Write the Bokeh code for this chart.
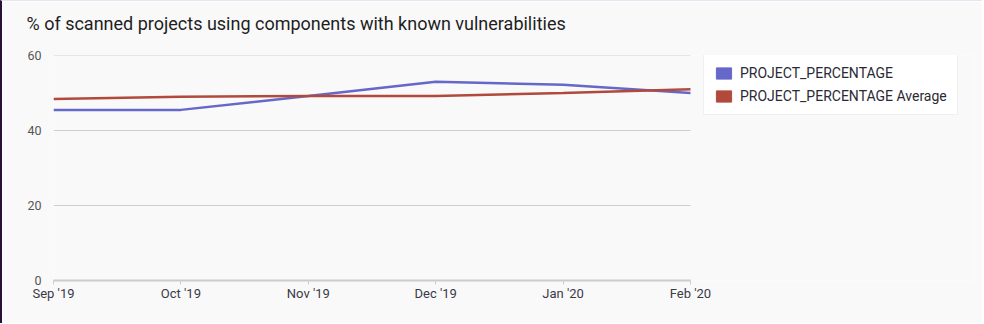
import math
from bokeh.plotting import figure
from bokeh.models import FixedTicker, Legend, LegendItem, Range1d, Title
from bokeh.embed import file_html
from bokeh.resources import INLINE

title_text = "% of scanned projects using components with known vulnerabilities"
months = ["Sep '19", "Oct '19", "Nov '19", "Dec '19", "Jan '20", "Feb '20"]
project_percentage = [45.5, 45.5, 49.2, 53.0, 52.2, 50.0]
project_percentage_avg = [48.4, 49.0, 49.2, 49.2, 50.0, 51.0]
y_ticks = [0, 20, 40, 60]

xs = list(range(len(months)))

BG = "#f9f9f9"
BLUE = "#6668c9"
RED = "#b14a3c"
FONT = "Roboto"

W, H = 982, 323
LEFT, RIGHT_B, TOP, BOTTOM = 51, 10, 54, 44
DATA_W = 637  # pixel width spanned by the data (Sep -> Feb)
frame_w = W - LEFT - RIGHT_B
x_end = (len(months) - 1) * frame_w / DATA_W

p = figure(width=W, height=H, output_backend="svg", toolbar_location=None,
           x_range=Range1d(0, x_end), y_range=Range1d(0, 60),
           min_border_left=LEFT, min_border_right=RIGHT_B, min_border_top=TOP, min_border_bottom=BOTTOM,
           background_fill_color=BG, border_fill_color=BG, outline_line_color=None)
p.styles = {"border-left": "2px solid #2a0f3a", "border-top": "1px solid #e3e6ee"}
p.title_location = None

# spacer panel (nearest the frame) then the real title above it
spacer = Title(text=" ", text_font_size="1px", standoff=15)
p.add_layout(spacer, "above")
title = Title(text=title_text, text_font=FONT, text_font_size="18px", text_font_style="normal",
              text_color="#1e1e1e", offset=-27, standoff=4, vertical_align="top")
p.add_layout(title, "above")

# horizontal grid lines limited to the data span
p.segment(x0=[0] * len(y_ticks), x1=[len(months) - 1] * len(y_ticks), y0=y_ticks, y1=y_ticks,
          line_color="#cfcfcf", line_width=1)

l1 = p.line(xs, project_percentage, line_color=BLUE, line_width=2.5)
l2 = p.line(xs, project_percentage_avg, line_color=RED, line_width=2.5)
nan = [math.nan]
q1 = p.quad(left=nan, right=nan, top=nan, bottom=nan, fill_color=BLUE, line_color=BLUE)
q2 = p.quad(left=nan, right=nan, top=nan, bottom=nan, fill_color=RED, line_color=RED)

p.xaxis.ticker = FixedTicker(ticks=xs)
p.xaxis.bounds = (0, len(months) - 1)
p.xaxis.major_label_overrides = {i: m for i, m in enumerate(months)}
p.xaxis.axis_line_color = "#cccccc"
p.xaxis.axis_line_width = 2
p.xaxis.major_tick_line_color = "#cccccc"
p.xaxis.major_tick_out = 4
p.xaxis.major_tick_in = 0
p.xaxis.minor_tick_line_color = None
p.xaxis.major_label_standoff = 1
p.xaxis.major_label_text_font = FONT
p.xaxis.major_label_text_font_size = "13px"
p.xaxis.major_label_text_color = "#3a3a48"

p.yaxis.ticker = FixedTicker(ticks=y_ticks)
p.yaxis.axis_line_color = None
p.yaxis.major_tick_line_color = None
p.yaxis.minor_tick_line_color = None
p.yaxis.major_tick_out = 0
p.yaxis.major_label_standoff = 12
p.yaxis.major_label_text_font = FONT
p.yaxis.major_label_text_font_size = "12.5px"
p.yaxis.major_label_text_color = "#555555"

p.xgrid.grid_line_color = None
p.ygrid.grid_line_color = None

legend = Legend(items=[LegendItem(label="PROJECT_PERCENTAGE", renderers=[q1]),
                       LegendItem(label="PROJECT_PERCENTAGE Average", renderers=[q2])],
                location=(650, 165), orientation="vertical",
                padding=10, spacing=7, glyph_width=19, glyph_height=14, label_height=16,
                label_standoff=7, label_text_font=FONT, label_text_font_size="14px",
                label_text_color="#2a2a35", background_fill_color="white", background_fill_alpha=1,
                border_line_color="#e2e2e6", border_line_width=1, margin=0)
p.add_layout(legend, "center")

open("out.html", "w").write(file_html(p, INLINE))
